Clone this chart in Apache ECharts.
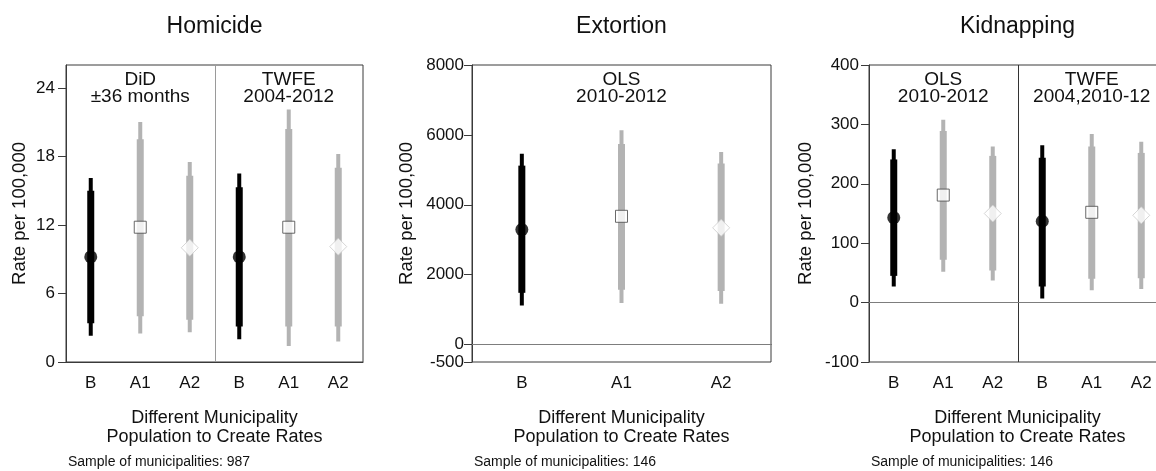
<!DOCTYPE html>
<html>
<head>
<meta charset="utf-8">
<script src="https://cdn.jsdelivr.net/npm/echarts@6/dist/echarts.min.js"></script>
<style>
  html, body { margin: 0; padding: 0; background: #ffffff; }
  #chart { width: 1156px; height: 471px; }
</style>
</head>
<body>
<div id="chart"></div>
<script>
// ---- categories ----
const catsSix = ['B', 'A1', 'A2', 'B', 'A1', 'A2'];
const catsThree = ['B', 'A1', 'A2'];

// ---- Homicide: DiD ±36 months (first three) | TWFE 2004-2012 (last three) ----
const homEst     = [9.2, 11.8, 10.0, 9.2, 11.8, 10.1];
const homThickLo = [3.4, 4.0, 3.7, 3.1, 3.1, 3.1];
const homThickHi = [15.0, 19.5, 16.3, 15.3, 20.4, 17.0];
const homThinLo  = [2.3, 2.5, 2.6, 2.0, 1.4, 1.8];
const homThinHi  = [16.1, 21.0, 17.5, 16.5, 22.1, 18.2];
const homTicks   = [0, 6, 12, 18, 24];

// ---- Extortion: OLS 2010-2012 ----
const extEst     = [3290, 3670, 3340];
const extThickLo = [1480, 1570, 1530];
const extThickHi = [5120, 5740, 5180];
const extThinLo  = [1120, 1190, 1170];
const extThinHi  = [5460, 6130, 5510];
const extTicks   = [-500, 0, 2000, 4000, 6000, 8000];

// ---- Kidnapping: OLS 2010-2012 (first three) | TWFE 2004,2010-12 (last three) ----
const kidEst     = [143, 181, 150, 137, 152, 147];
const kidThickLo = [45, 72, 54, 27, 40, 41];
const kidThickHi = [241, 289, 247, 244, 263, 252];
const kidThinLo  = [27, 52, 37, 7, 21, 23];
const kidThinHi  = [258, 308, 263, 265, 284, 271];
const kidTicks   = [-100, 0, 100, 200, 300, 400];

// ---- text ----
const panelTitles = ['Homicide', 'Extortion', 'Kidnapping'];
const subLabels = [
  ['DiD\n±36 months', 'TWFE\n2004-2012'],
  ['OLS\n2010-2012'],
  ['OLS\n2010-2012', 'TWFE\n2004,2010-12']
];
const yName = 'Rate per 100,000';
const xName = 'Different Municipality\nPopulation to Create Rates';
const sampleNotes = ['Sample of municipalities: 987', 'Sample of municipalities: 146', 'Sample of municipalities: 146'];

// ---- styling ----
const FONT = '"Liberation Sans", Arial, Helvetica, sans-serif';
const INK = '#111111';
const FRAME = '#3a3a3a';
const BLACK = '#000000';
const GREY = '#b3b3b3';

const grids = [
  { left: 66,  top: 65, width: 297, height: 297 },
  { left: 472, top: 65, width: 299, height: 297 },
  { left: 869, top: 65, width: 297, height: 297 }
];

function barRows(thinLo, thickLo, thickHi, thinHi) {
  return thinLo.map((v, i) => [i, v, thickLo[i], thickHi[i], thinHi[i]]);
}

// interval bars: thin = wide interval, thick = narrow interval
function renderBars(params, api) {
  const i = api.value(0);
  const x = api.coord([i, api.value(1)])[0];
  const y1 = api.coord([i, api.value(1)])[1];
  const y2 = api.coord([i, api.value(2)])[1];
  const y3 = api.coord([i, api.value(3)])[1];
  const y4 = api.coord([i, api.value(4)])[1];
  const color = i % 3 === 0 ? BLACK : GREY;
  return {
    type: 'group',
    children: [
      { type: 'line', shape: { x1: x, y1: y1, x2: x, y2: y4 }, style: { stroke: color, lineWidth: 4, lineCap: 'butt' } },
      { type: 'line', shape: { x1: x, y1: y2, x2: x, y2: y3 }, style: { stroke: color, lineWidth: 7, lineCap: 'butt' } }
    ]
  };
}

// vertical separator between the two estimation blocks of a panel
function dividerRenderer(color) {
  return function (params, api) {
    const xa = api.coord([2, 0])[0];
    const xb = api.coord([3, 0])[0];
    const cs = params.coordSys;
    const x = Math.round((xa + xb) / 2) + 0.5;
    return {
      type: 'line',
      shape: { x1: x, y1: cs.y, x2: x, y2: cs.y + cs.height },
      style: { stroke: color, lineWidth: 1 }
    };
  };
}

function markerItems(est) {
  return est.map((v, i) => {
    const k = i % 3;
    if (k === 0) {
      return { value: [i, v], symbol: 'circle', symbolSize: 13, itemStyle: { color: BLACK } };
    } else if (k === 1) {
      return { value: [i, v], symbol: 'rect', symbolSize: 12,
               itemStyle: { color: '#ffffff', borderColor: '#454545', borderWidth: 1 } };
    }
    return { value: [i, v], symbol: 'diamond', symbolSize: [17, 17],
             itemStyle: { color: '#ffffff', borderColor: '#cccccc', borderWidth: 1 } };
  });
}

function xAxisFor(idx, cats) {
  return {
    type: 'category', gridIndex: idx, data: cats, boundaryGap: true,
    axisLine: { lineStyle: { color: FRAME, width: 1 } },
    axisTick: { alignWithLabel: true, length: 7, lineStyle: { color: FRAME } },
    axisLabel: { color: INK, fontFamily: FONT, fontSize: 17, margin: 13 },
    splitLine: { show: false }
  };
}

function yAxisFor(idx, min, max, ticks, margin) {
  return {
    type: 'value', gridIndex: idx, min: min, max: max,
    axisLine: { show: true, lineStyle: { color: FRAME, width: 1 } },
    axisTick: { show: true, length: 8, lineStyle: { color: FRAME }, customValues: ticks },
    axisLabel: { color: INK, fontFamily: FONT, fontSize: 17, margin: margin, customValues: ticks,
                 formatter: v => String(v) },
    splitLine: { show: false }
  };
}

const zeroLine = {
  silent: true, symbol: 'none', label: { show: false },
  lineStyle: { color: '#7d7d7d', width: 1, type: 'solid' },
  data: [{ yAxis: 0 }]
};

const series = [
  // Homicide
  { type: 'custom', xAxisIndex: 0, yAxisIndex: 0, renderItem: dividerRenderer('#9a9a9a'), data: [[2, 0]], silent: true, z: 1 },
  { type: 'custom', xAxisIndex: 0, yAxisIndex: 0, renderItem: renderBars,
    data: barRows(homThinLo, homThickLo, homThickHi, homThinHi), encode: { x: 0, y: [1, 2, 3, 4] }, z: 2 },
  { type: 'scatter', xAxisIndex: 0, yAxisIndex: 0, data: markerItems(homEst), z: 3 },
  // Extortion
  { type: 'custom', xAxisIndex: 1, yAxisIndex: 1, renderItem: renderBars,
    data: barRows(extThinLo, extThickLo, extThickHi, extThinHi), encode: { x: 0, y: [1, 2, 3, 4] }, z: 2,
    markLine: zeroLine },
  { type: 'scatter', xAxisIndex: 1, yAxisIndex: 1, data: markerItems(extEst), z: 3 },
  // Kidnapping
  { type: 'custom', xAxisIndex: 2, yAxisIndex: 2, renderItem: dividerRenderer('#333333'), data: [[2, 0]], silent: true, z: 1 },
  { type: 'custom', xAxisIndex: 2, yAxisIndex: 2, renderItem: renderBars,
    data: barRows(kidThinLo, kidThickLo, kidThickHi, kidThinHi), encode: { x: 0, y: [1, 2, 3, 4] }, z: 2,
    markLine: zeroLine },
  { type: 'scatter', xAxisIndex: 2, yAxisIndex: 2, data: markerItems(kidEst), z: 3 }
];

// ---- text placed relative to each plot frame ----
const graphics = [];
const yNameX = [19.5, 407, 806];
grids.forEach((g, p) => {
  const cx = g.left + g.width / 2;
  graphics.push({ type: 'text', x: cx, y: 27, silent: true,
    style: { text: panelTitles[p], font: '23px ' + FONT, fill: INK, textAlign: 'center', textVerticalAlign: 'middle' } });
  graphics.push({ type: 'text', x: yNameX[p], y: g.top + g.height / 2, rotation: Math.PI / 2, silent: true,
    style: { text: yName, font: '18.5px ' + FONT, fill: INK, textAlign: 'center', textVerticalAlign: 'middle' } });
  graphics.push({ type: 'text', x: cx, y: 428, silent: true,
    style: { text: xName, font: '18px ' + FONT, fill: INK, textAlign: 'center', textVerticalAlign: 'middle', lineHeight: 19 } });
  graphics.push({ type: 'text', x: g.left + 2, y: 462, silent: true,
    style: { text: sampleNotes[p], font: '14px ' + FONT, fill: INK, textAlign: 'left', textVerticalAlign: 'middle' } });
  const labels = subLabels[p];
  const nCats = labels.length === 2 ? 6 : 3;
  labels.forEach((t, j) => {
    const slot = labels.length === 2 ? (j * 3 + 1) : 1;
    const lx = g.left + g.width * (slot + 0.5) / nCats;
    graphics.push({ type: 'text', x: lx, y: 88, silent: true,
      style: { text: t, font: '19px ' + FONT, fill: INK, textAlign: 'center', textVerticalAlign: 'middle', lineHeight: 17 } });
  });
});

const chart = echarts.init(document.getElementById('chart'), null, { renderer: 'canvas' });
chart.setOption({
  animation: false,
  backgroundColor: '#ffffff',
  grid: grids.map(g => Object.assign({ show: true, borderColor: FRAME, borderWidth: 1, backgroundColor: 'transparent',
                                        containLabel: false, outerBoundsMode: 'none' }, g)),
  xAxis: [xAxisFor(0, catsSix), xAxisFor(1, catsThree), xAxisFor(2, catsSix)],
  yAxis: [
    yAxisFor(0, 0, 26, homTicks, 11),
    yAxisFor(1, -500, 8000, extTicks, 8),
    yAxisFor(2, -100, 400, kidTicks, 10)
  ],
  series: series,
  graphic: graphics
});
</script>
</body>
</html>
